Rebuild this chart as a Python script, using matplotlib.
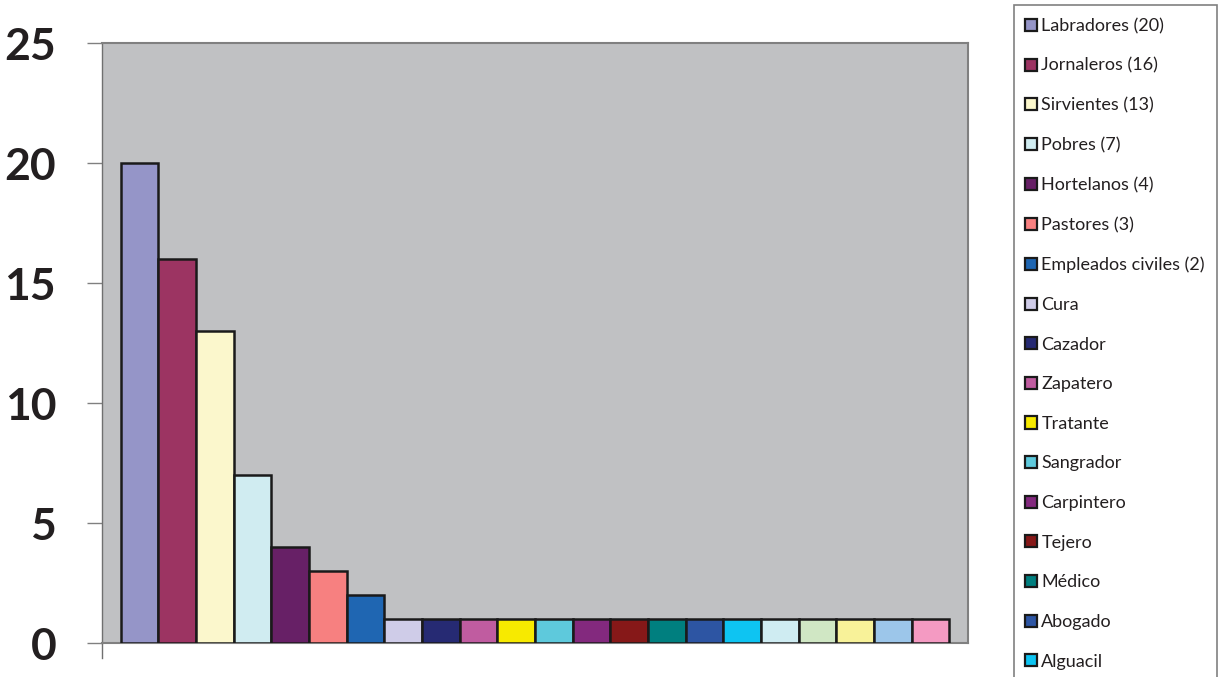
import matplotlib
matplotlib.use("Agg")
import matplotlib.pyplot as plt
from matplotlib.patches import Patch, Rectangle

# Data (last five legend entries are cut off in the picture)
occupations = ["Labradores (20)", "Jornaleros (16)", "Sirvientes (13)", "Pobres (7)",
               "Hortelanos (4)", "Pastores (3)", "Empleados civiles (2)", "Cura",
               "Cazador", "Zapatero", "Tratante", "Sangrador", "Carpintero", "Tejero",
               "Médico", "Abogado", "Alguacil", "Oficio 18", "Oficio 19", "Oficio 20",
               "Oficio 21", "Oficio 22"]
counts = [20, 16, 13, 7, 4, 3, 2, 1, 1, 1, 1, 1, 1, 1, 1, 1, 1, 1, 1, 1, 1, 1]
colors = ["#9595c8", "#9c3462", "#fbf7cc", "#d0ecf1", "#672066", "#f78080",
          "#1f66b2", "#cfcce8", "#262a73", "#c05ca0", "#f7ea00", "#5ec9dc",
          "#83297e", "#861818", "#007f7f", "#2d55a3", "#0ec4f2", "#cfecf2",
          "#d0e7c4", "#f8f299", "#9cc6ea", "#f49ac2"]
yticks = [0, 5, 10, 15, 20, 25]
n_visible_legend = 17  # entries that fit in the picture

plt.rcParams["font.family"] = ["Lato", "DejaVu Sans"]

fig = plt.figure(figsize=(12.18, 6.77), dpi=100)
ax = fig.add_axes([102 / 1218, 34 / 677, 866 / 1218, 600 / 677])
ax.set_facecolor("#c0c1c3")

x = list(range(len(counts)))
ax.bar(x, counts, width=1.0, color=colors, edgecolor="#1a1a1a", linewidth=1.8, zorder=3)

ax.set_xlim(-1, len(counts))
ax.set_ylim(0, 25)
ax.set_yticks(yticks)
ax.set_yticklabels([str(v) for v in yticks], fontsize=32, fontweight="bold", color="#231f20")
ax.tick_params(axis="y", length=11, width=1, color="#808080", pad=22)
ax.set_xticks([])

for side in ["top", "right", "bottom"]:
    ax.spines[side].set_color("#808080")
    ax.spines[side].set_linewidth(1.5)
ax.spines["left"].set_color("#707070")
ax.spines["left"].set_linewidth(1)

# small downward extension of the left axis line
ax.plot([0, 0], [0, -0.025], transform=ax.transAxes, color="#707070", lw=1, clip_on=False)

# legend box runs off the bottom of the picture
fig.patches.append(Rectangle((1014 / 1218, -0.02), 203 / 1218, 1 - 5 / 677 + 0.02,
                             transform=fig.transFigure, facecolor="white",
                             edgecolor="#808080", linewidth=1.2, zorder=0))

handles = [Patch(facecolor=c, edgecolor="#1a1a1a", linewidth=1.6) for c in colors]
fig.legend(handles[:n_visible_legend], occupations[:n_visible_legend], loc="upper left",
           bbox_to_anchor=(1025 / 1218, 1 - 18 / 677), fontsize=13,
           frameon=False, handlelength=0.65, handleheight=0.65, handletextpad=0.25,
           labelspacing=1.31, borderpad=0, borderaxespad=0,
           labelcolor="#231f20")

fig.savefig("out.png", dpi=100)
